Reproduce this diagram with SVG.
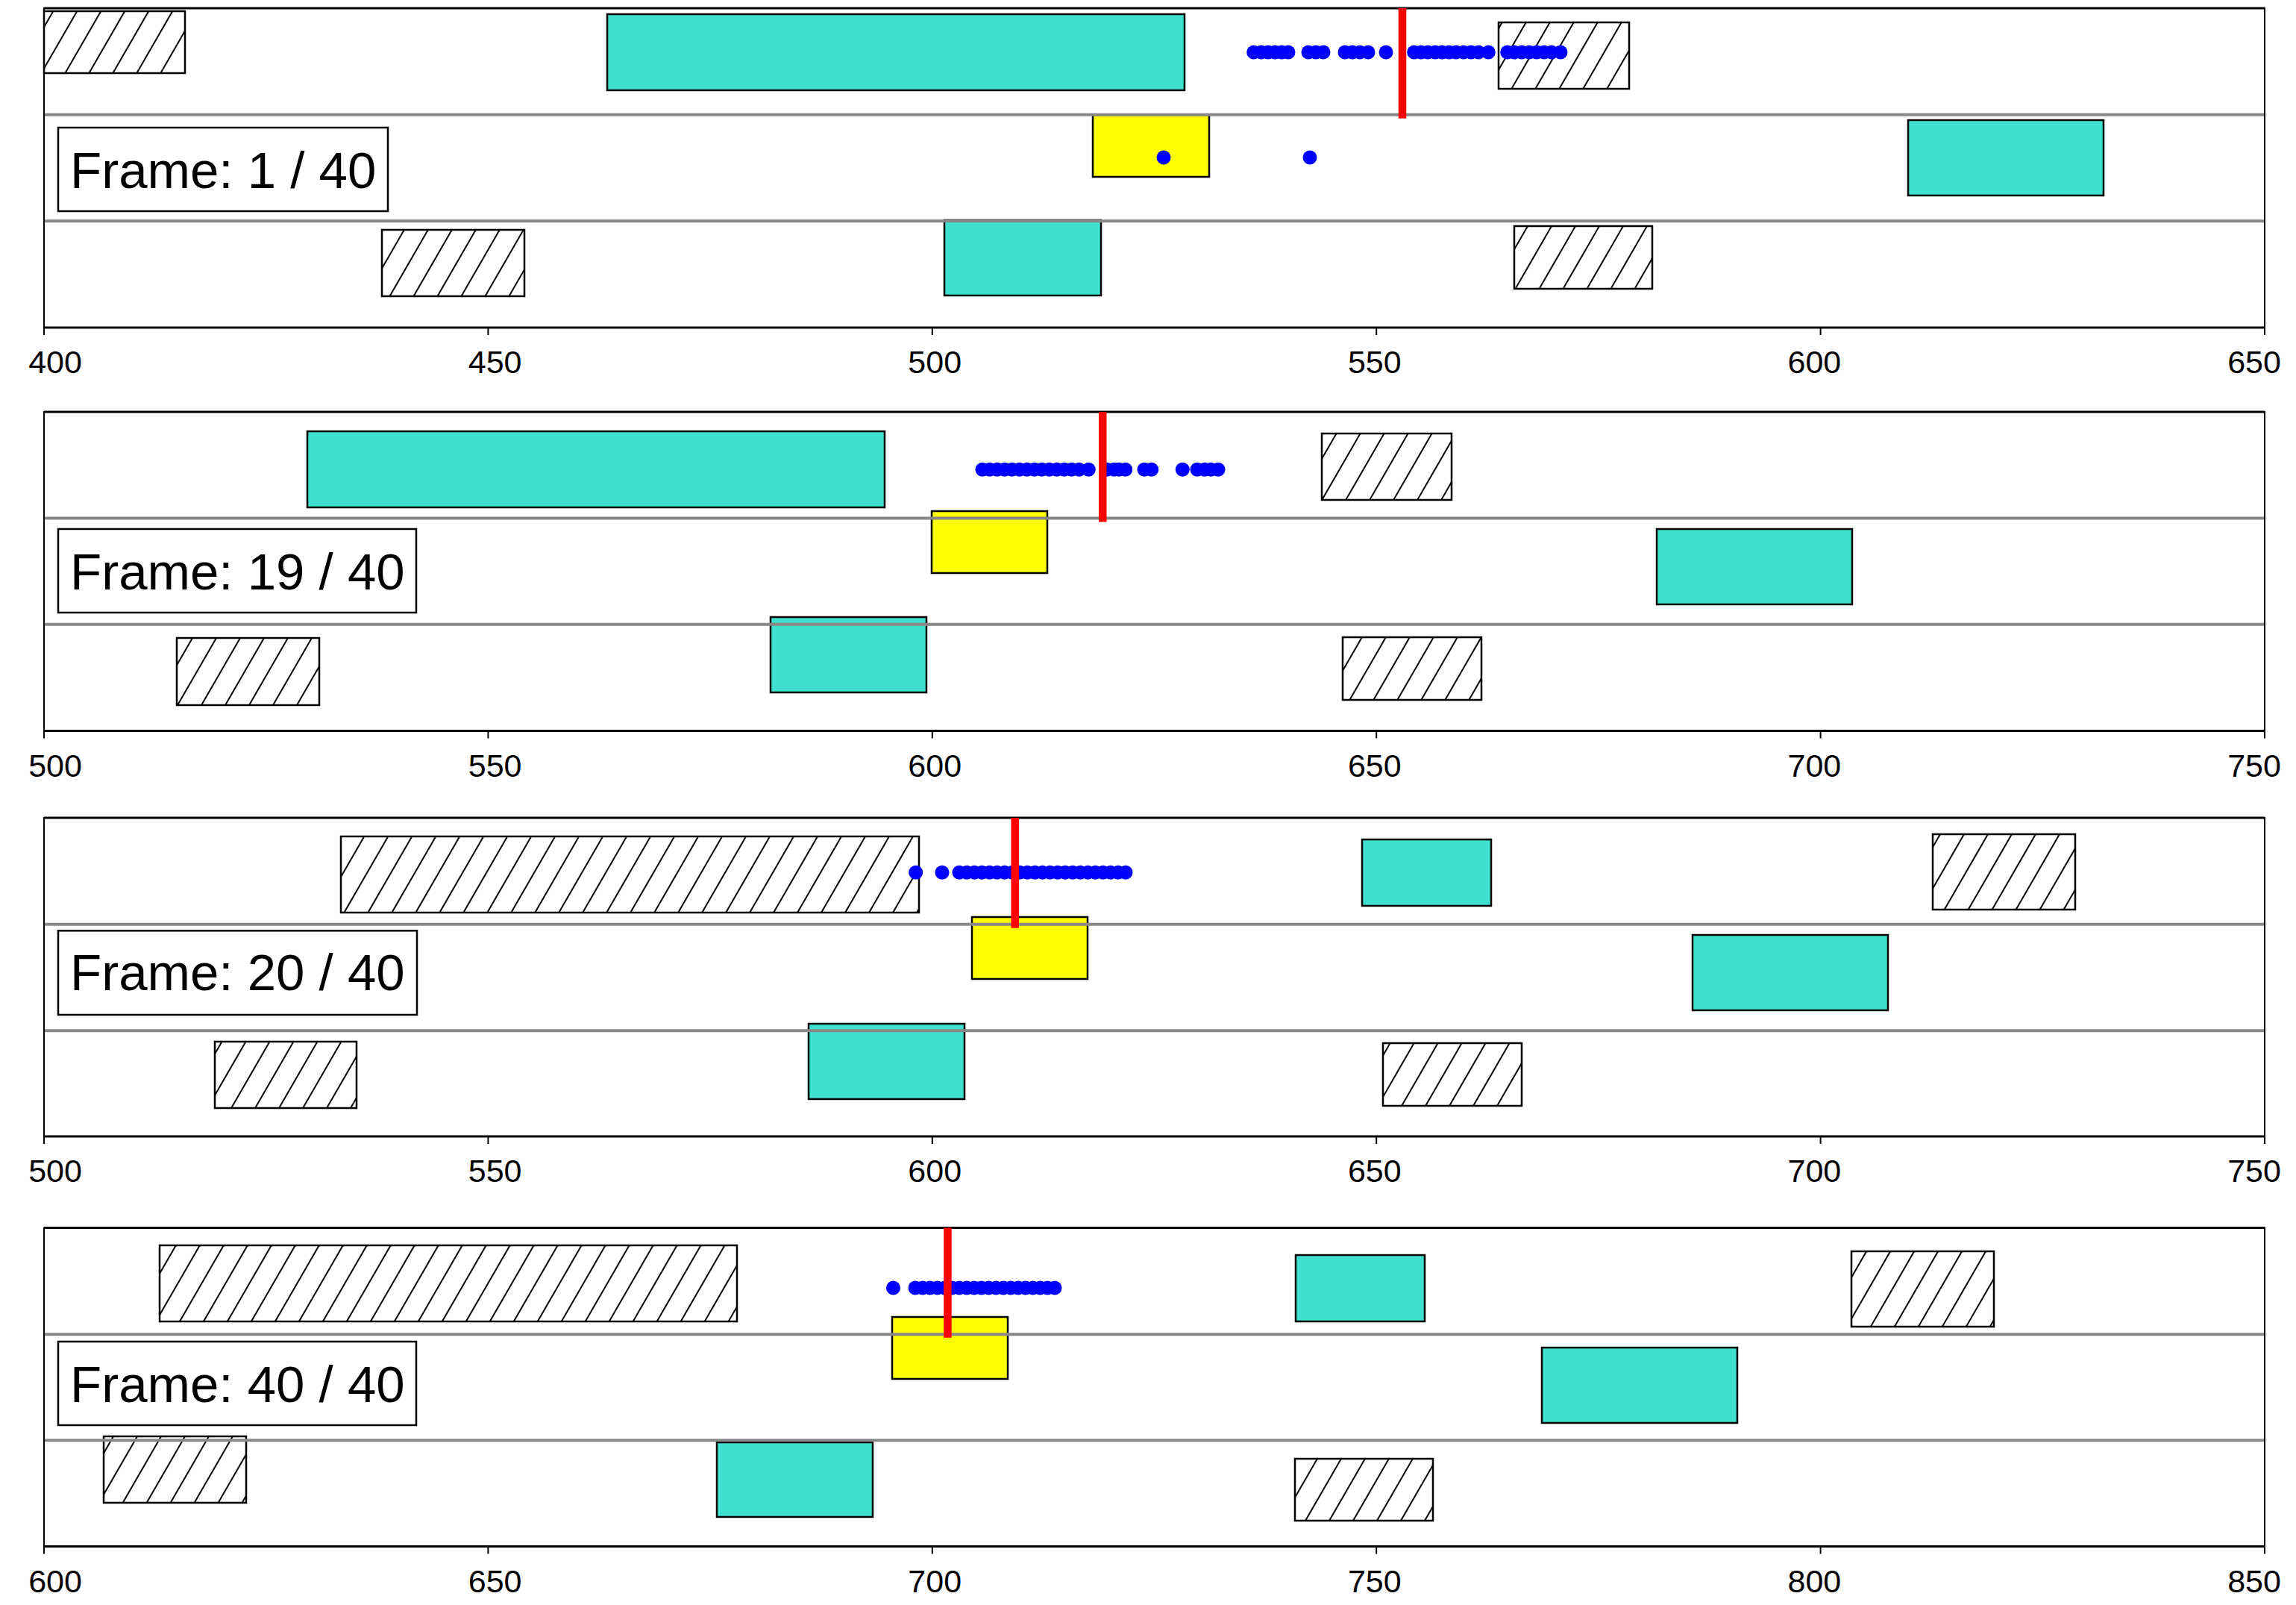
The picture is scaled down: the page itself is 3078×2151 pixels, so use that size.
<svg xmlns="http://www.w3.org/2000/svg" width="3078" height="2151" viewBox="0 0 3078 2151">
<defs>
<pattern id="hatch" patternUnits="userSpaceOnUse" width="27.7" height="40" patternTransform="rotate(30)">
<rect width="27.7" height="40" fill="#fff"/>
<line x1="13.85" y1="-2" x2="13.85" y2="42" stroke="#000" stroke-width="2"/>
</pattern>
<style>
.teal{fill:#40e0d0;stroke:#000;stroke-width:2.5}
.hat{fill:url(#hatch);stroke:#000;stroke-width:2.5}
.yel{fill:#ffff00;stroke:#000;stroke-width:2.5}
.sep{stroke:#888;stroke-width:4}
.frm{fill:none;stroke:#000;stroke-width:2}
.edge{stroke:#000;stroke-width:3}
.tick{stroke:#000;stroke-width:2}
.dot{fill:#0000ff}
.red{stroke:#ff0000;stroke-width:10.5}
.lbl{fill:#fff;stroke:#000;stroke-width:2.5}
.tl{font-family:"Liberation Sans",Arial,sans-serif;font-size:43px;text-anchor:middle;fill:#000}
.ft{font-family:"Liberation Sans",Arial,sans-serif;font-size:69px;fill:#000}
</style>
</defs>
<rect width="3078" height="2151" fill="#fff"/>

<!-- Panel 1 -->
<g id="panel1">
<rect class="hat" x="59" y="15" width="189" height="83"/>
<rect class="teal" x="814" y="19" width="774" height="102"/>
<rect class="hat" x="2009" y="30" width="175" height="89"/>
<rect class="yel" x="1465" y="154" width="156" height="83"/>
<rect class="teal" x="2558" y="161" width="262" height="101"/>
<rect class="hat" x="512" y="308" width="191" height="89"/>
<rect class="teal" x="1266" y="295" width="210" height="101"/>
<rect class="hat" x="2030" y="303" width="185" height="84"/>
<line class="sep" x1="59" y1="153.7" x2="3036" y2="153.7"/>
<line class="sep" x1="59" y1="296.3" x2="3036" y2="296.3"/>
<rect class="frm" x="59" y="11" width="2977" height="428"/>
<line class="edge" x1="59" y1="11" x2="3036" y2="11"/>
<line class="edge" x1="59" y1="439" x2="3036" y2="439"/>
<g class="dot">
<circle cx="1680.7" cy="70" r="9.5"/><circle cx="1690.7" cy="70" r="9.5"/><circle cx="1700" cy="70" r="9.5"/><circle cx="1709.3" cy="70" r="9.5"/><circle cx="1718.3" cy="70" r="9.5"/><circle cx="1727" cy="70" r="9.5"/>
<circle cx="1754" cy="70" r="9.5"/><circle cx="1764" cy="70" r="9.5"/><circle cx="1774" cy="70" r="9.5"/>
<circle cx="1803" cy="70" r="9.5"/><circle cx="1813" cy="70" r="9.5"/><circle cx="1823" cy="70" r="9.5"/><circle cx="1834" cy="70" r="9.5"/>
<circle cx="1858" cy="70" r="9.5"/>
<circle cx="1895.7" cy="70" r="9.5"/><circle cx="1905" cy="70" r="9.5"/><circle cx="1914.3" cy="70" r="9.5"/><circle cx="1924" cy="70" r="9.5"/><circle cx="1933.3" cy="70" r="9.5"/><circle cx="1942.7" cy="70" r="9.5"/><circle cx="1952" cy="70" r="9.5"/><circle cx="1962" cy="70" r="9.5"/><circle cx="1972" cy="70" r="9.5"/><circle cx="1982" cy="70" r="9.5"/><circle cx="1995.3" cy="70" r="9.5"/>
<circle cx="2020.7" cy="70" r="9.5"/><circle cx="2030" cy="70" r="9.5"/><circle cx="2040" cy="70" r="9.5"/><circle cx="2050" cy="70" r="9.5"/><circle cx="2060" cy="70" r="9.5"/><circle cx="2070" cy="70" r="9.5"/><circle cx="2080" cy="70" r="9.5"/><circle cx="2092" cy="70" r="9.5"/>
<circle cx="1560" cy="211" r="9.5"/><circle cx="1756" cy="211" r="9.5"/>
</g>
<line class="red" x1="1880" y1="11" x2="1880" y2="158.7"/>
<rect class="lbl" x="78" y="171" width="442" height="112"/>
<text class="ft" x="94" y="251.7">Frame: 1 / 40</text>
<g class="tick">
<line x1="59" y1="439" x2="59" y2="449"/><line x1="654.4" y1="439" x2="654.4" y2="449"/><line x1="1249.8" y1="439" x2="1249.8" y2="449"/><line x1="1845.2" y1="439" x2="1845.2" y2="449"/><line x1="2440.6" y1="439" x2="2440.6" y2="449"/><line x1="3036" y1="439" x2="3036" y2="449"/>
</g>
<text class="tl" x="74" y="500">400</text><text class="tl" x="663.6" y="500">450</text><text class="tl" x="1253.2" y="500">500</text><text class="tl" x="1842.8" y="500">550</text><text class="tl" x="2432.4" y="500">600</text><text class="tl" x="3022" y="500">650</text>
</g>

<!-- Panel 2 -->
<g id="panel2">
<rect class="teal" x="412" y="578" width="774" height="102"/>
<rect class="hat" x="1772" y="581" width="174" height="89"/>
<rect class="yel" x="1249" y="685" width="155" height="83"/>
<rect class="teal" x="2221" y="709" width="262" height="101"/>
<rect class="hat" x="237" y="855" width="191" height="90"/>
<rect class="teal" x="1033" y="827" width="209" height="101"/>
<rect class="hat" x="1800" y="854" width="186" height="84"/>
<line class="sep" x1="59" y1="694.6" x2="3036" y2="694.6"/>
<line class="sep" x1="59" y1="836.8" x2="3036" y2="836.8"/>
<rect class="frm" x="59" y="552" width="2977" height="427.5"/>
<line class="edge" x1="59" y1="552" x2="3036" y2="552"/>
<line class="edge" x1="59" y1="979.5" x2="3036" y2="979.5"/>
<g class="dot">
<circle cx="1317" cy="629.3" r="9.5"/><circle cx="1326.7" cy="629.3" r="9.5"/><circle cx="1336.7" cy="629.3" r="9.5"/><circle cx="1346.7" cy="629.3" r="9.5"/><circle cx="1356.7" cy="629.3" r="9.5"/><circle cx="1366.7" cy="629.3" r="9.5"/><circle cx="1376.7" cy="629.3" r="9.5"/><circle cx="1386.7" cy="629.3" r="9.5"/><circle cx="1396.7" cy="629.3" r="9.5"/><circle cx="1406.7" cy="629.3" r="9.5"/><circle cx="1416.7" cy="629.3" r="9.5"/><circle cx="1426.7" cy="629.3" r="9.5"/><circle cx="1436.7" cy="629.3" r="9.5"/><circle cx="1446.7" cy="629.3" r="9.5"/><circle cx="1459.3" cy="629.3" r="9.5"/>
<circle cx="1484" cy="629.3" r="9.5"/><circle cx="1493.7" cy="629.3" r="9.5"/><circle cx="1500" cy="629.3" r="9.5"/><circle cx="1508.7" cy="629.3" r="9.5"/>
<circle cx="1534" cy="629.3" r="9.5"/><circle cx="1543.7" cy="629.3" r="9.5"/>
<circle cx="1585.3" cy="629.3" r="9.5"/><circle cx="1605" cy="629.3" r="9.5"/><circle cx="1615" cy="629.3" r="9.5"/><circle cx="1623.3" cy="629.3" r="9.5"/><circle cx="1633" cy="629.3" r="9.5"/>
</g>
<line class="red" x1="1478.3" y1="552" x2="1478.3" y2="699.4"/>
<rect class="lbl" x="78" y="709" width="480" height="112"/>
<text class="ft" x="94" y="789.8">Frame: 19 / 40</text>
<g class="tick">
<line x1="59" y1="979.5" x2="59" y2="989.5"/><line x1="654.4" y1="979.5" x2="654.4" y2="989.5"/><line x1="1249.8" y1="979.5" x2="1249.8" y2="989.5"/><line x1="1845.2" y1="979.5" x2="1845.2" y2="989.5"/><line x1="2440.6" y1="979.5" x2="2440.6" y2="989.5"/><line x1="3036" y1="979.5" x2="3036" y2="989.5"/>
</g>
<text class="tl" x="74" y="1040.5">500</text><text class="tl" x="663.6" y="1040.5">550</text><text class="tl" x="1253.2" y="1040.5">600</text><text class="tl" x="1842.8" y="1040.5">650</text><text class="tl" x="2432.4" y="1040.5">700</text><text class="tl" x="3022" y="1040.5">750</text>
</g>

<!-- Panel 3 -->
<g id="panel3">
<rect class="hat" x="457" y="1121" width="775" height="102"/>
<rect class="teal" x="1826" y="1125" width="173" height="89"/>
<rect class="hat" x="2591" y="1118" width="191" height="101"/>
<rect class="yel" x="1303" y="1229" width="155" height="83"/>
<rect class="teal" x="2269" y="1253" width="262" height="101"/>
<rect class="hat" x="288" y="1396" width="190" height="89"/>
<rect class="teal" x="1084" y="1372" width="209" height="101"/>
<rect class="hat" x="1854" y="1398" width="186" height="84"/>
<line class="sep" x1="59" y1="1238.7" x2="3036" y2="1238.7"/>
<line class="sep" x1="59" y1="1381.3" x2="3036" y2="1381.3"/>
<rect class="frm" x="59" y="1096" width="2977" height="427"/>
<line class="edge" x1="59" y1="1096" x2="3036" y2="1096"/>
<line class="edge" x1="59" y1="1523" x2="3036" y2="1523"/>
<g class="dot">
<circle cx="1227.7" cy="1169.3" r="9.5"/><circle cx="1263" cy="1169.3" r="9.5"/>
<circle cx="1286" cy="1169.3" r="9.5"/><circle cx="1296.1" cy="1169.3" r="9.5"/><circle cx="1306.3" cy="1169.3" r="9.5"/><circle cx="1316.4" cy="1169.3" r="9.5"/><circle cx="1326.6" cy="1169.3" r="9.5"/><circle cx="1336.7" cy="1169.3" r="9.5"/><circle cx="1346.8" cy="1169.3" r="9.5"/><circle cx="1357" cy="1169.3" r="9.5"/><circle cx="1367.1" cy="1169.3" r="9.5"/><circle cx="1377.3" cy="1169.3" r="9.5"/><circle cx="1387.4" cy="1169.3" r="9.5"/><circle cx="1397.5" cy="1169.3" r="9.5"/><circle cx="1407.7" cy="1169.3" r="9.5"/><circle cx="1417.8" cy="1169.3" r="9.5"/><circle cx="1428" cy="1169.3" r="9.5"/><circle cx="1438.1" cy="1169.3" r="9.5"/><circle cx="1448.2" cy="1169.3" r="9.5"/><circle cx="1458.4" cy="1169.3" r="9.5"/><circle cx="1468.5" cy="1169.3" r="9.5"/><circle cx="1478.7" cy="1169.3" r="9.5"/><circle cx="1488.8" cy="1169.3" r="9.5"/><circle cx="1498.9" cy="1169.3" r="9.5"/><circle cx="1509" cy="1169.3" r="9.5"/>
</g>
<line class="red" x1="1360.7" y1="1096" x2="1360.7" y2="1243.8"/>
<rect class="lbl" x="78" y="1247.3" width="481" height="112.7"/>
<text class="ft" x="94" y="1327.4">Frame: 20 / 40</text>
<g class="tick">
<line x1="59" y1="1523" x2="59" y2="1533"/><line x1="654.4" y1="1523" x2="654.4" y2="1533"/><line x1="1249.8" y1="1523" x2="1249.8" y2="1533"/><line x1="1845.2" y1="1523" x2="1845.2" y2="1533"/><line x1="2440.6" y1="1523" x2="2440.6" y2="1533"/><line x1="3036" y1="1523" x2="3036" y2="1533"/>
</g>
<text class="tl" x="74" y="1584">500</text><text class="tl" x="663.6" y="1584">550</text><text class="tl" x="1253.2" y="1584">600</text><text class="tl" x="1842.8" y="1584">650</text><text class="tl" x="2432.4" y="1584">700</text><text class="tl" x="3022" y="1584">750</text>
</g>

<!-- Panel 4 -->
<g id="panel4">
<rect class="hat" x="214" y="1669" width="774" height="102"/>
<rect class="teal" x="1737" y="1682" width="173" height="89"/>
<rect class="hat" x="2482" y="1677" width="191" height="101"/>
<rect class="yel" x="1196" y="1765" width="155" height="83"/>
<rect class="teal" x="2067" y="1806" width="262" height="101"/>
<rect class="hat" x="139" y="1925" width="191" height="89"/>
<rect class="teal" x="961" y="1933" width="209" height="100"/>
<rect class="hat" x="1736" y="1955" width="185" height="83"/>
<line class="sep" x1="59" y1="1788.2" x2="3036" y2="1788.2"/>
<line class="sep" x1="59" y1="1930.2" x2="3036" y2="1930.2"/>
<rect class="frm" x="59" y="1645.6" width="2977" height="426.9"/>
<line class="edge" x1="59" y1="1645.6" x2="3036" y2="1645.6"/>
<line class="edge" x1="59" y1="2072.5" x2="3036" y2="2072.5"/>
<g class="dot">
<circle cx="1197.5" cy="1726" r="9.5"/>
<circle cx="1227" cy="1726" r="9.5"/><circle cx="1236.8" cy="1726" r="9.5"/><circle cx="1246.7" cy="1726" r="9.5"/><circle cx="1256.5" cy="1726" r="9.5"/><circle cx="1266.4" cy="1726" r="9.5"/><circle cx="1276.2" cy="1726" r="9.5"/><circle cx="1286.1" cy="1726" r="9.5"/><circle cx="1296" cy="1726" r="9.5"/><circle cx="1305.8" cy="1726" r="9.5"/><circle cx="1315.6" cy="1726" r="9.5"/><circle cx="1325.5" cy="1726" r="9.5"/><circle cx="1335.3" cy="1726" r="9.5"/><circle cx="1345.2" cy="1726" r="9.5"/><circle cx="1355" cy="1726" r="9.5"/><circle cx="1364.9" cy="1726" r="9.5"/><circle cx="1374.7" cy="1726" r="9.5"/><circle cx="1384.6" cy="1726" r="9.5"/><circle cx="1394.4" cy="1726" r="9.5"/><circle cx="1404.3" cy="1726" r="9.5"/><circle cx="1414" cy="1726" r="9.5"/>
</g>
<line class="red" x1="1270.4" y1="1645.6" x2="1270.4" y2="1792.8"/>
<rect class="lbl" x="78" y="1798" width="480" height="112"/>
<text class="ft" x="94" y="1878.7">Frame: 40 / 40</text>
<g class="tick">
<line x1="59" y1="2072.5" x2="59" y2="2082.5"/><line x1="654.4" y1="2072.5" x2="654.4" y2="2082.5"/><line x1="1249.8" y1="2072.5" x2="1249.8" y2="2082.5"/><line x1="1845.2" y1="2072.5" x2="1845.2" y2="2082.5"/><line x1="2440.6" y1="2072.5" x2="2440.6" y2="2082.5"/><line x1="3036" y1="2072.5" x2="3036" y2="2082.5"/>
</g>
<text class="tl" x="74" y="2134">600</text><text class="tl" x="663.6" y="2134">650</text><text class="tl" x="1253.2" y="2134">700</text><text class="tl" x="1842.8" y="2134">750</text><text class="tl" x="2432.4" y="2134">800</text><text class="tl" x="3022" y="2134">850</text>
</g>
</svg>
